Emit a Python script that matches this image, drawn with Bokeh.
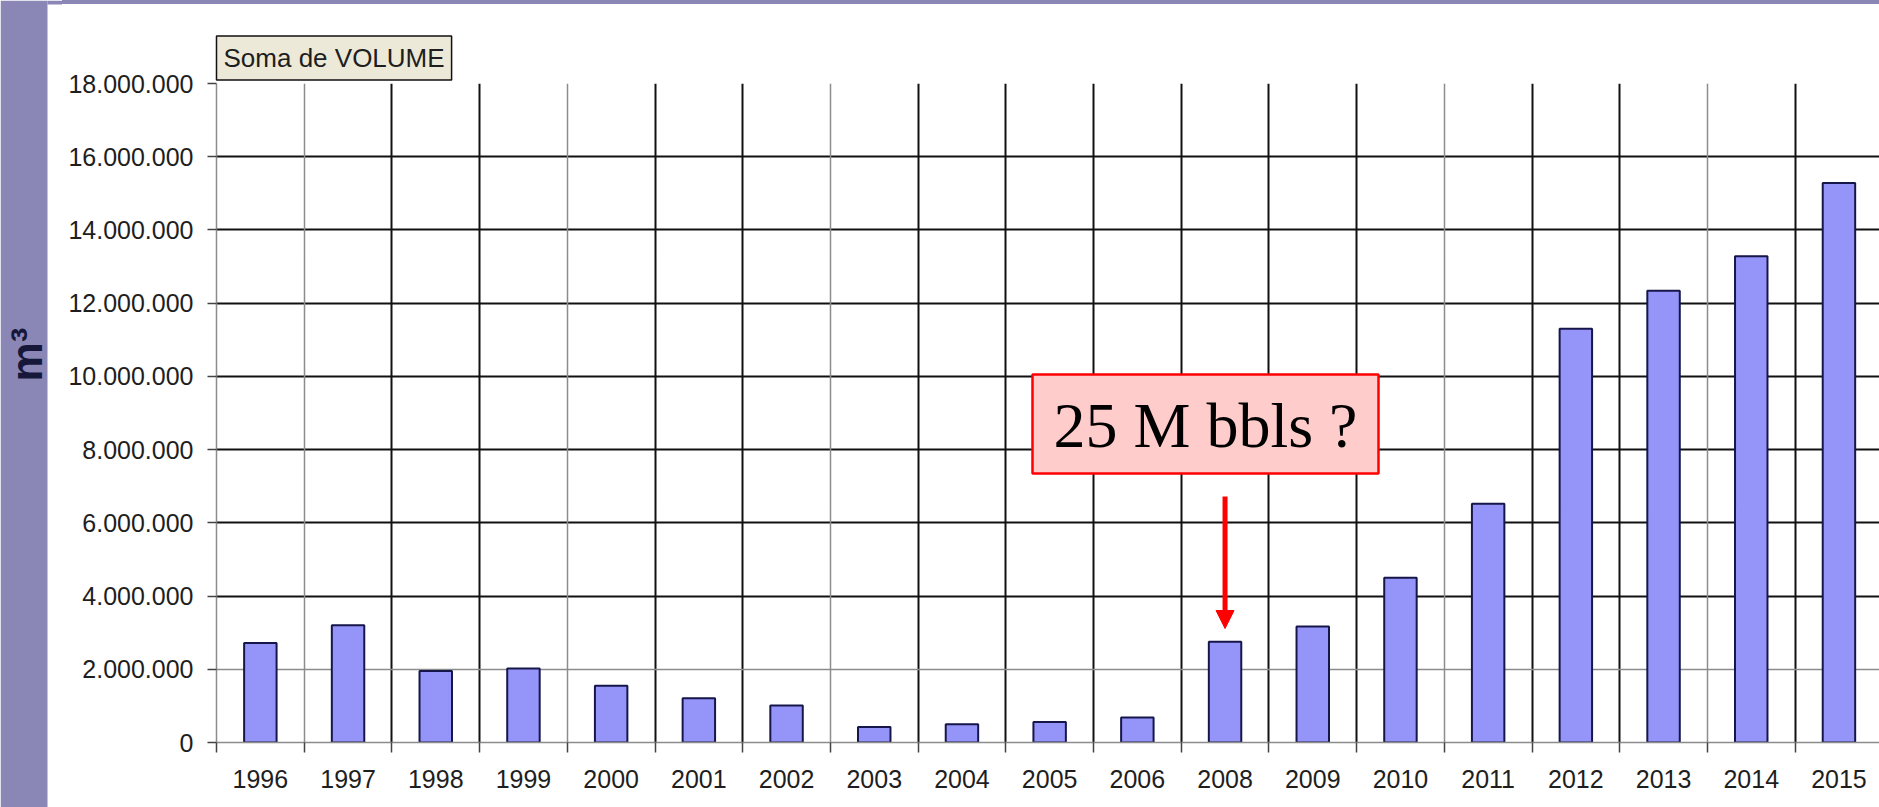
from math import pi
from bokeh.plotting import figure
from bokeh.layouts import row, column
from bokeh.models import (Range1d, FixedTicker, Grid, BoxAnnotation, Label,
                          Arrow, NormalHead, Div)
from bokeh.embed import file_html
from bokeh.resources import INLINE

# ---------------- data ----------------
years = ["1996", "1997", "1998", "1999", "2000", "2001", "2002", "2003",
         "2004", "2005", "2006", "2008", "2009", "2010", "2011", "2012",
         "2013", "2014", "2015"]
volumes = [2.72e6, 3.20e6, 1.95e6, 2.02e6, 1.55e6, 1.21e6, 1.01e6, 0.42e6,
           0.50e6, 0.56e6, 0.68e6, 2.75e6, 3.17e6, 4.50e6, 6.52e6, 11.30e6,
           12.34e6, 13.28e6, 15.28e6]
y_ticks = [0, 2000000, 4000000, 6000000, 8000000, 10000000, 12000000,
           14000000, 16000000, 18000000]
y_tick_labels = ["0", "2.000.000", "4.000.000", "6.000.000", "8.000.000",
                 "10.000.000", "12.000.000", "14.000.000", "16.000.000",
                 "18.000.000"]
series_name = "Soma de VOLUME"
y_unit = "m\u00b3"
note_text = "25 M bbls ?"
note_year = "2008"

# ---------------- geometry (page pixels) ----------------
PAGE_W, PAGE_H = 1879, 807
PURPLE_W, LEFT_W, TOP_H = 47, 62, 4
FR_L, FR_T, FR_B = 216, 83, 742          # frame edges on the page
CAT_PX = 87.7
X_END = (PAGE_W - FR_L) / CAT_PX
Y_MAX = 18000000
PURPLE = "#8A87B7"


def dx(px):
    return (px - FR_L) / CAT_PX


def dy(py):
    return (FR_B - py) / (FR_B - FR_T) * Y_MAX


FONT = "Liberation Sans"
TXT = "#1e1e1e"
DARK = "#111111"
GRAY = "#8c8c8c"

# ---------------- left band with unit ----------------
band = figure(width=LEFT_W, height=PAGE_H, output_backend="svg",
              toolbar_location=None, x_range=Range1d(0, LEFT_W),
              y_range=Range1d(PAGE_H, 0), x_axis_type=None, y_axis_type=None,
              min_border=0, background_fill_color="white",
              border_fill_color="white")
band.outline_line_color = None
band.grid.visible = False
band.add_layout(BoxAnnotation(left=0, right=PURPLE_W, top=0, bottom=PAGE_H,
                              fill_color=PURPLE, fill_alpha=1,
                              line_color=None))
band.add_layout(BoxAnnotation(left=PURPLE_W, right=LEFT_W, top=0,
                              bottom=TOP_H, fill_color=PURPLE, fill_alpha=1,
                              line_color=None))
band.add_layout(Label(x=26, y=354, text=y_unit, angle=pi / 2,
                      text_align="center", text_baseline="middle",
                      text_font=FONT, text_font_style="bold",
                      text_font_size="44px", text_color="#17173a"))

# ---------------- top strip ----------------
strip = Div(text="", width=PAGE_W - LEFT_W, height=TOP_H, margin=0,
            styles={"background-color": PURPLE})

# ---------------- main chart ----------------
p = figure(width=PAGE_W - LEFT_W, height=PAGE_H - TOP_H,
           output_backend="svg", toolbar_location=None,
           x_range=Range1d(0, X_END), y_range=Range1d(0, Y_MAX),
           min_border_left=FR_L - LEFT_W, min_border_top=FR_T - TOP_H,
           min_border_bottom=PAGE_H - FR_B, min_border_right=0,
           background_fill_color="white", border_fill_color="white")
p.outline_line_color = None

# series name box as title
p.title.text = series_name
p.title.align = "left"
p.title.offset = 0
p.title.standoff = 7
p.title.text_font = FONT
p.title.text_font_size = "26px"
p.title.text_font_style = "normal"
p.title.text_color = TXT
p.title.background_fill_color = "#ECE9D8"
p.title.border_line_color = "#111111"
p.title.border_line_width = 1.5
p.title.padding = 7

# grids
n = len(years)
gray_b = [0, 1, 4, 7, 14, 17]
dark_b = [b for b in range(n) if b not in gray_b]
p.xgrid.ticker = FixedTicker(ticks=dark_b)
p.xgrid.grid_line_color = DARK
p.xgrid.grid_line_width = 2
p.add_layout(Grid(dimension=0, ticker=FixedTicker(ticks=gray_b),
                  grid_line_color=GRAY, grid_line_width=1.5))

gray_h = [0, 2000000, 18000000]
dark_h = [t for t in y_ticks if t not in gray_h]
p.ygrid.ticker = FixedTicker(ticks=dark_h)
p.ygrid.grid_line_color = DARK
p.ygrid.grid_line_width = 2
p.add_layout(Grid(dimension=1, ticker=FixedTicker(ticks=gray_h),
                  grid_line_color=GRAY, grid_line_width=1.5))

# bars
centers = [i + 0.5 for i in range(n)]
p.vbar(x=centers, top=volumes, width=0.37, bottom=0,
       fill_color="#9595F9", line_color="#16164a", line_width=2)

# axes
xa = p.xaxis[0]
xa.ticker = FixedTicker(ticks=centers, minor_ticks=list(range(n)))
xa.major_label_overrides = {c: y for c, y in zip(centers, years)}
xa.major_tick_line_color = None
xa.major_tick_out = 0
xa.major_tick_in = 0
xa.minor_tick_out = 10
xa.minor_tick_in = 0
xa.minor_tick_line_color = "#444444"
xa.minor_tick_line_width = 1.5
xa.axis_line_color = GRAY
xa.axis_line_width = 1.5
xa.major_label_standoff = 17
xa.major_label_text_font = FONT
xa.major_label_text_font_size = "25px"
xa.major_label_text_color = TXT

ya = p.yaxis[0]
ya.ticker = FixedTicker(ticks=y_ticks)
ya.major_label_overrides = {t: s for t, s in zip(y_ticks, y_tick_labels)}
ya.major_tick_out = 9
ya.major_tick_in = 0
ya.major_tick_line_color = "#444444"
ya.major_tick_line_width = 1.5
ya.minor_tick_line_color = None
ya.axis_line_color = GRAY
ya.axis_line_width = 1.5
ya.major_label_standoff = 14
ya.major_label_text_font = FONT
ya.major_label_text_font_size = "25px"
ya.major_label_text_color = TXT

# note box and arrow
p.add_layout(BoxAnnotation(left=dx(1032), right=dx(1378), top=dy(374),
                           bottom=dy(473), fill_color="#FFCCCC", fill_alpha=1,
                           line_color="#FF0000", line_alpha=1,
                           line_width=2.5))
p.add_layout(Label(x=dx(1205), y=dy(425), text=note_text,
                   text_align="center", text_baseline="middle",
                   text_font="Liberation Serif", text_font_size="64px",
                   text_color="black"))
ax = years.index(note_year) + 0.5
p.add_layout(Arrow(end=NormalHead(size=18, fill_color="#FF0000",
                                  line_color="#FF0000"),
                   x_start=ax, y_start=dy(496), x_end=ax, y_end=dy(628),
                   line_color="#FF0000", line_width=5))

layout = row(band, column(strip, p, spacing=0), spacing=0)
open("out.html", "w").write(file_html(layout, INLINE))
